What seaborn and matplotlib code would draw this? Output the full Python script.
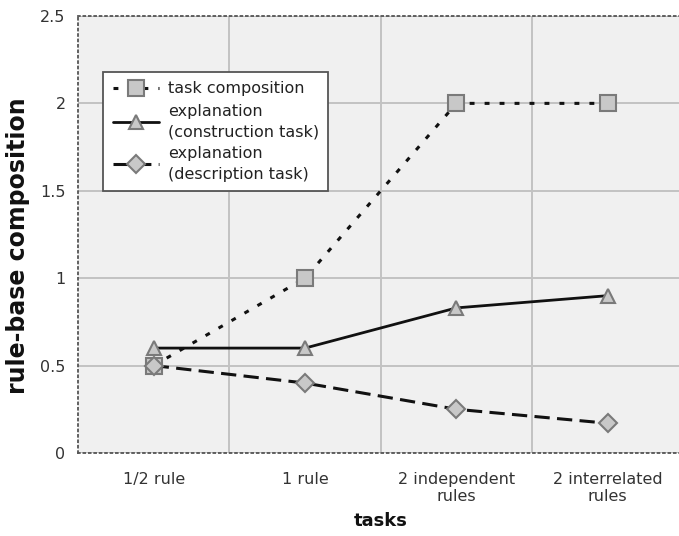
import numpy as np
import pandas as pd
import matplotlib
matplotlib.use("Agg")
import matplotlib.pyplot as plt
import seaborn as sns

tasks = ["1/2 rule", "1 rule", "2 independent\nrules", "2 interrelated\nrules"]
task_composition = [0.5, 1.0, 2.0, 2.0]
construction = [0.6, 0.6, 0.83, 0.9]
description = [0.5, 0.4, 0.25, 0.17]
yticks = [0, 0.5, 1, 1.5, 2, 2.5]

sns.set_style("white")
plt.rcParams['font.family'] = ['DejaVu Sans']

fig = plt.figure(figsize=(6.79, 5.36), dpi=100)
ax = fig.add_axes([0.1149, 0.1549, 0.8917, 0.8153])
ax.set_facecolor("#f0f0f0")

pos = np.arange(len(tasks))
df = pd.DataFrame({"pos": pos, "comp": task_composition,
                   "cons": construction, "desc": description})

mk = dict(markerfacecolor="#c8c8c8", markeredgecolor="#7a7a7a", markeredgewidth=1.5)

# task composition - dotted with squares
sns.lineplot(data=df, x="pos", y="comp", ax=ax, color="#111111", lw=2.2,
             marker="s", markersize=11, label="task composition", **mk)
ax.lines[-1].set_dashes((1.6, 3.3))
# construction task - solid with triangles
sns.lineplot(data=df, x="pos", y="cons", ax=ax, color="#111111", lw=2.0,
             marker="^", markersize=10.5, label="explanation\n(construction task)", **mk)
# description task - long dashes with diamonds
sns.lineplot(data=df, x="pos", y="desc", ax=ax, color="#111111", lw=2.2,
             marker="D", markersize=9, label="explanation\n(description task)", **mk)
ax.lines[-1].set_dashes((5, 2.4))

ax.set_xlim(-0.5, len(tasks) - 0.5)
ax.set_ylim(0, 2.5)
ax.set_xticks(pos)
ax.set_xticklabels(tasks, fontsize=11.5, color="#333333", linespacing=1.15)
ax.set_xticks(pos[:-1] + 0.5, minor=True)
ax.set_yticks(yticks)
ax.set_yticklabels([f"{v:g}" for v in yticks], fontsize=11.5, color="#333333")
ax.tick_params(axis="x", which="major", length=0, pad=14)
ax.tick_params(axis="x", which="minor", length=5, direction="inout", color="#999999")
ax.tick_params(axis="y", length=6, direction="inout", color="#999999", pad=6)

ax.grid(True, which="minor", axis="x", color="#c2c2c2", lw=1.4)
ax.grid(True, which="major", axis="y", color="#c2c2c2", lw=1.4)
ax.set_axisbelow(True)

for side in ["left", "top", "bottom"]:
    ax.spines[side].set_visible(True)
    ax.spines[side].set_linestyle((0, (1, 2)))
    ax.spines[side].set_color("#555555")
    ax.spines[side].set_linewidth(1.3)
ax.spines["right"].set_visible(False)

ax.set_xlabel("tasks", fontsize=13, fontweight="bold", color="#111111")
ax.xaxis.set_label_coords(0.5, -0.135)
ax.set_ylabel("rule-base composition", fontsize=17, fontweight="bold", color="#111111")
ax.yaxis.set_label_coords(-0.079, 0.475)

leg = ax.legend(loc="upper left", bbox_to_anchor=(0.0413, 0.872), fontsize=11.5,
                frameon=True, fancybox=False, framealpha=1, edgecolor="#555555",
                handlelength=2.9, borderpad=0.6, labelspacing=0.45, handletextpad=0.55,
                borderaxespad=0)
leg.get_frame().set_linewidth(1.3)
for t in leg.get_texts():
    t.set_linespacing(1.45)
    t.set_color("#222222")

fig.savefig("out.png", dpi=100)
